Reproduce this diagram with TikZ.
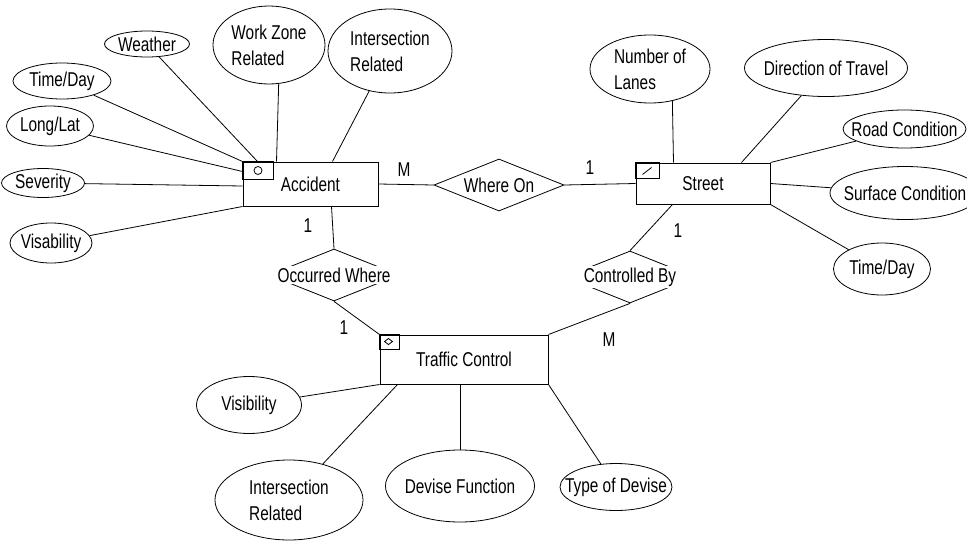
\documentclass[tikz,border=0pt]{standalone}
\usepackage{fontspec}
\setmainfont{Liberation Sans}[FakeStretch=0.77]
\usetikzlibrary{shapes.geometric, positioning, calc}
\newcommand{\erfont}{\fontsize{20}{26}\selectfont}
\tikzset{
  entbox/.style={rectangle, draw=black, line width=1pt, inner sep=0pt, font=\erfont},
  attrib/.style={ellipse, draw=black, line width=0.8pt, inner sep=0pt},
  relship/.style={diamond, draw=black, line width=0.8pt, inner sep=0pt,
                  minimum width=130pt, minimum height=52pt},
  rellab/.style={fill=white, inner xsep=12pt, inner ysep=2pt},
  card/.style={font=\erfont, inner sep=0pt},
  conn/.style={draw=black, line width=0.8pt},
  keyicon/.style={draw=black, line width=0.8pt},
}

\begin{document}
\begin{tikzpicture}[x=1pt, y=-1pt,
    every label/.style={font=\erfont, inner sep=0pt, align=left}]

  \useasboundingbox[fill=white] (0,0) rectangle (967,541);

  % --- Entities ---
  \node[entbox, minimum width=135pt, minimum height=44pt] (acc) at (310.5,184) {Accident};
  \node[entbox, minimum width=134pt, minimum height=41pt] (street) at (703,183.5) {Street\hspace{28pt}};
  \node[entbox, minimum width=168pt, minimum height=49pt] (tc) at (464,359.5) {\raisebox{-5pt}{Traffic Control}\hspace{12pt}};

  % key markers in the corners
  \draw[keyicon] (acc.north west) rectangle ++(31,18);
  \draw[keyicon] ($(acc.north west)+(15.5,9)$) circle (4);
  \draw[keyicon] (street.north west) rectangle ++(24,16);
  \draw[keyicon] ($(street.north west)+(7,12)$) -- ++(9,-7);
  \draw[keyicon] (tc.north west) rectangle ++(20,15);
  \draw[keyicon] ($(tc.north west)+(5,7)$) -- ++(4,-3) -- ++(4,3) -- ++(-4,3) -- cycle;

  % --- Relationships ---
  \node[relship, label={[rellab, inner xsep=1pt]center:Where On}] (whereon) at (499,185) {};
  \node[relship, label={[rellab]center:Occurred Where}] (occwhere) at (334,275) {};
  \node[relship, label={[rellab, inner xsep=21pt]center:Controlled By}] (ctrlby) at (630,277) {};

  % --- Accident attributes ---
  \node[attrib, minimum width=85pt, minimum height=26pt, label=center:Weather] (weather) at (147,44) {};
  \node[attrib, minimum width=98pt, minimum height=36pt, label=center:Time/Day] (accday) at (62,81) {};
  \node[attrib, minimum width=87pt, minimum height=40pt, label=center:Long/Lat] (longlat) at (50,126) {};
  \node[attrib, minimum width=83pt, minimum height=29pt, label=center:Severity] (severity) at (43,183) {};
  \node[attrib, minimum width=82pt, minimum height=40pt, label=center:Visability] (visab) at (51,243) {};
  \node[attrib, minimum width=112pt, minimum height=78pt, label=center:Work Zone\\Related] (workzone) at (269,45) {};
  \node[attrib, minimum width=124pt, minimum height=84pt, label=center:Intersection\\Related] (accint) at (390,51) {};

  % --- Street attributes ---
  \node[attrib, minimum width=120pt, minimum height=68pt, label=center:Number of\\Lanes] (numlanes) at (650,69) {};
  \node[attrib, minimum width=163pt, minimum height=57pt, label=center:Direction of Travel] (dirtravel) at (826,68) {};
  \node[attrib, minimum width=123pt, minimum height=38pt, label=center:Road Condition] (roadcond) at (904.5,129) {};
  \node[attrib, minimum width=150pt, minimum height=53pt, label=center:Surface Condition] (surfcond) at (905,193) {};
  \node[attrib, minimum width=97pt, minimum height=52pt, label=center:Time/Day] (streetday) at (882,269) {};

  % --- Traffic Control attributes ---
  \node[attrib, minimum width=105pt, minimum height=57pt, label=center:Visibility] (visib) at (249,405) {};
  \node[attrib, minimum width=148pt, minimum height=80pt, label=center:Intersection\\Related] (tcint) at (289,500) {};
  \node[attrib, minimum width=149pt, minimum height=72pt, label=center:Devise Function] (devfunc) at (460,486) {};
  \node[attrib, minimum width=112pt, minimum height=47pt, label=center:Type of Devise] (typedev) at (616,487) {};

  % --- Cardinalities ---
  \node[card] (cardaccw) at (404,170) {M};
  \node[card] (cardstw) at (590,168) {1};
  \node[card] (cardacco) at (308,226) {1};
  \node[card] (cardstc) at (678,231) {1};
  \node[card] (cardtco) at (344,328) {1};
  \node[card] (cardtcc) at (609,340) {M};

  % --- Relationship links ---
  \draw[conn] (acc.east) -- (whereon.west);
  \draw[conn] (whereon.east) -- (street.west);
  \draw[conn] ([xshift=89pt]acc.south west) -- (occwhere.north);
  \draw[conn] (occwhere.south) -- (tc.north west);
  \draw[conn] ([xshift=37pt]street.south west) -- (ctrlby.north);
  \draw[conn] (ctrlby.south) -- (tc.north east);

  % --- Attribute links ---
  \draw[conn] (weather) -- ([xshift=15pt]acc.north west);
  \draw[conn] (accday) -- (acc.north west);
  \draw[conn] (longlat) -- ([yshift=-10pt]acc.north west);
  \draw[conn] (severity) -- ([yshift=-2pt]acc.west);
  \draw[conn] (visab) -- (acc.south west);
  \draw[conn] (workzone.-76) -- ([xshift=34pt]acc.north west);
  \draw[conn] (accint) -- ([xshift=90pt]acc.north west);

  \draw[conn] (numlanes.-55) -- ([xshift=38pt]street.north west);
  \draw[conn] (dirtravel) -- ([xshift=106pt]street.north west);
  \draw[conn] (roadcond) -- (street.north east);
  \draw[conn] (surfcond) -- (street.east);
  \draw[conn] (streetday) -- (street.south east);

  \draw[conn] (visib) -- (tc.south west);
  \draw[conn] (tcint) -- ([xshift=18pt]tc.south west);
  \draw[conn] (devfunc.north) -- (devfunc.north |- tc.south);
  \draw[conn] (typedev) -- (tc.south east);

\end{tikzpicture}
\end{document}
